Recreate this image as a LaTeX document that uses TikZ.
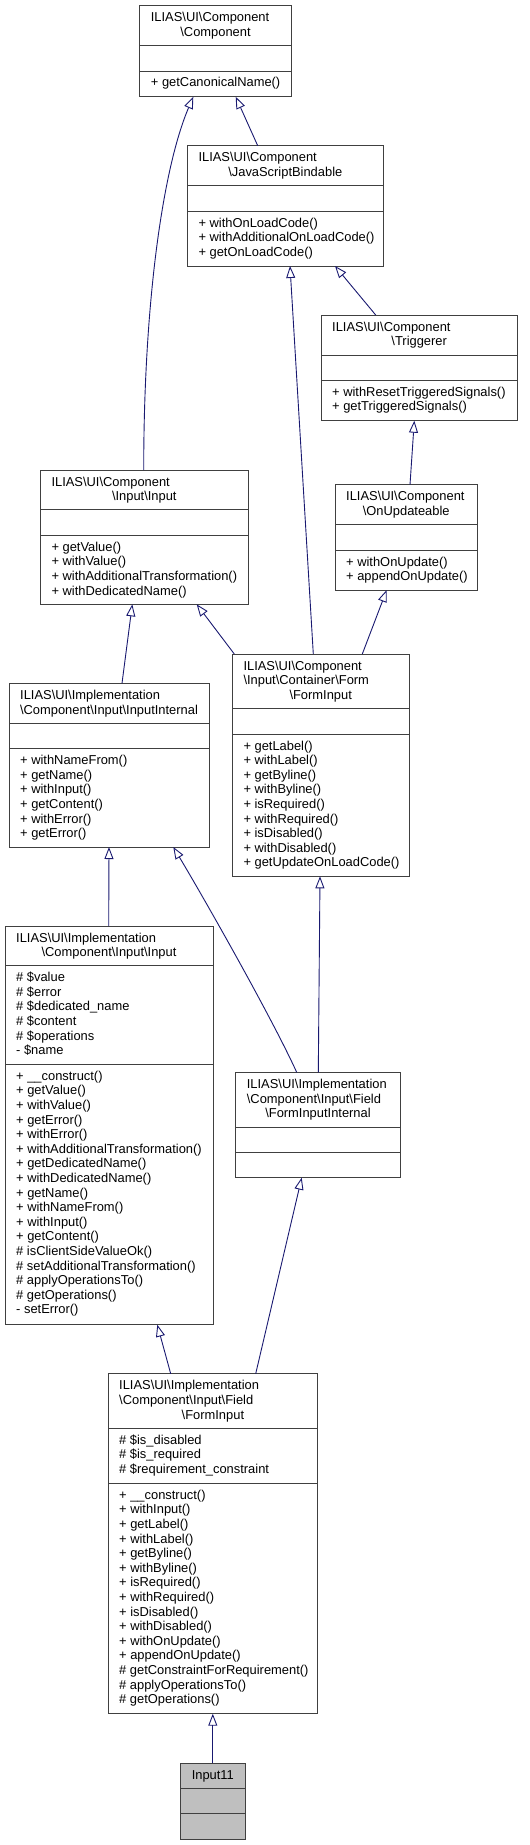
\documentclass[tikz,border=0pt]{standalone}
\usepackage{fontspec}
\setmainfont{Liberation Sans}
\usetikzlibrary{arrows.meta,calc,fit}
\definecolor{edgeblue}{HTML}{191970}
\definecolor{boxline}{HTML}{404040}
\definecolor{grayfill}{HTML}{BFBFBF}
\newcommand{\bsl}{\textbackslash}
\tikzset{
  box/.style={draw=boxline, line width=1pt, inner sep=0pt, outer sep=0pt},
  divline/.style={draw=boxline, line width=1pt},
  txt/.style={anchor=base west, inner sep=0pt, font=\fontsize{12.9}{14.6}\selectfont},
  ctxt/.style={anchor=base, inner sep=0pt, font=\fontsize{12.9}{14.6}\selectfont},
  inherit/.style={draw=edgeblue, line width=0.9pt, -{Triangle[open, length=12pt, width=9pt]}},
}
\newcommand{\umlbox}[8][white]{%
  \node[box, fill=#1, fit={(#3,#4) (#5,#6)}] (#2) {};
  \draw[divline] (#2.west |- 0,#7) -- (#2.east |- 0,#7);
  \draw[divline] (#2.west |- 0,#8) -- (#2.east |- 0,#8);
}
\newcommand{\rows}[4]{%
  \foreach \rowtext [count=\i from 0] in {#4} {\node[txt] (#1-\i) at (#2,#3+\i*14.6) {\rowtext};}
}
\begin{document}
\begin{tikzpicture}[x=1pt, y=-1pt]
\useasboundingbox (0,0) rectangle (530,1845);

% b1 Component
\umlbox{b1}{139.7}{5.7}{291.3}{96.7}{45.7}{71}
\node[txt] (b1-t1) at (150.7,21.9) {ILIAS\bsl UI\bsl Component};
\node[ctxt] (b1-t2) at (215.5,36.5) {\bsl Component};
\rows{b1m}{150.7}{86.9}{{+ getCanonicalName()}}

% b2 JavaScriptBindable
\umlbox{b2}{187.3}{145.7}{383.3}{266}{185.7}{211}
\node[txt] (b2-t1) at (198.3,161.9) {ILIAS\bsl UI\bsl Component};
\node[ctxt] (b2-t2) at (285.3,176.5) {\bsl JavaScriptBindable};
\rows{b2m}{198.3}{227}{{+ withOnLoadCode()},{+ withAdditionalOnLoadCode()},{+ getOnLoadCode()}}

% b3 Triggerer
\umlbox{b3}{321}{315}{517.3}{420.7}{355}{380.3}
\node[txt] (b3-t1) at (332,331.2) {ILIAS\bsl UI\bsl Component};
\node[ctxt] (b3-t2) at (419.2,345.8) {\bsl Triggerer};
\rows{b3m}{332}{396.3}{{+ withResetTriggeredSignals()},{+ getTriggeredSignals()}}

% b4 Component Input Input
\umlbox{b4}{40.3}{470}{248.3}{604.3}{509.7}{535.3}
\node[txt] (b4-t1) at (51.3,486.2) {ILIAS\bsl UI\bsl Component};
\node[ctxt] (b4-t2) at (144.3,500.8) {\bsl Input\bsl Input};
\rows{b4m}{51.3}{551.3}{{+ getValue()},{+ withValue()},{+ withAdditionalTransformation()},{+ withDedicatedName()}}

% b5 OnUpdateable
\umlbox{b5}{335}{484.7}{477.3}{590}{524.3}{550}
\node[txt] (b5-t1) at (346,500.9) {ILIAS\bsl UI\bsl Component};
\node[ctxt] (b5-t2) at (406.2,515.5) {\bsl OnUpdateable};
\rows{b5m}{346}{566}{{+ withOnUpdate()},{+ appendOnUpdate()}}

% b6 InputInternal
\umlbox{b6}{9}{683.3}{209}{847}{723.3}{748.7}
\node[txt] (b6-t1) at (20,699.5) {ILIAS\bsl UI\bsl Implementation};
\node[ctxt] (b6-t2) at (109,714.1) {\bsl Component\bsl Input\bsl InputInternal};
\rows{b6m}{20}{764.7}{{+ withNameFrom()},{+ getName()},{+ withInput()},{+ getContent()},{+ withError()},{+ getError()}}

% b7 Container Form FormInput
\umlbox{b7}{232.3}{654}{409}{876.3}{708.3}{734}
\node[txt] (b7-t1) at (243.3,670.2) {ILIAS\bsl UI\bsl Component};
\node[txt] (b7-t2) at (243.3,684.8) {\bsl Input\bsl Container\bsl Form};
\node[ctxt] (b7-t3) at (320.7,699.4) {\bsl FormInput};
\rows{b7m}{243.3}{750}{{+ getLabel()},{+ withLabel()},{+ getByline()},{+ withByline()},{+ isRequired()},{+ withRequired()},{+ isDisabled()},{+ withDisabled()},{+ getUpdateOnLoadCode()}}

% b8 Implementation Input
\umlbox{b8}{5}{926}{213}{1324.7}{965.7}{1064.3}
\node[txt] (b8-t1) at (16,942.2) {ILIAS\bsl UI\bsl Implementation};
\node[ctxt] (b8-t2) at (109,956.8) {\bsl Component\bsl Input\bsl Input};
\rows{b8a}{16}{981.7}{{\# \$value},{\# \$error},{\# \$dedicated\_name},{\# \$content},{\# \$operations},{- \$name}}
\rows{b8m}{16}{1080.3}{{+ \_\_construct()},{+ getValue()},{+ withValue()},{+ getError()},{+ withError()},{+ withAdditionalTransformation()},{+ getDedicatedName()},{+ withDedicatedName()},{+ getName()},{+ withNameFrom()},{+ withInput()},{+ getContent()},{\# isClientSideValueOk()},{\# setAdditionalTransformation()},{\# applyOperationsTo()},{\# getOperations()},{- setError()}}

% b9 FormInputInternal
\umlbox{b9}{235.7}{1072.3}{400.3}{1177.7}{1127}{1152.7}
\node[txt] (b9-t1) at (246.7,1088.5) {ILIAS\bsl UI\bsl Implementation};
\node[txt] (b9-t2) at (246.7,1103.1) {\bsl Component\bsl Input\bsl Field};
\node[ctxt] (b9-t3) at (318,1117.7) {\bsl FormInputInternal};

% b10 Field FormInput
\umlbox{b10}{108}{1373.7}{317.7}{1713.7}{1428.3}{1483.3}
\node[txt] (b10-t1) at (119,1389.9) {ILIAS\bsl UI\bsl Implementation};
\node[txt] (b10-t2) at (119,1404.5) {\bsl Component\bsl Input\bsl Field};
\node[ctxt] (b10-t3) at (212.9,1419.1) {\bsl FormInput};
\rows{b10a}{119}{1444.3}{{\# \$is\_disabled},{\# \$is\_required},{\# \$requirement\_constraint}}
\rows{b10m}{119}{1499.3}{{+ \_\_construct()},{+ withInput()},{+ getLabel()},{+ withLabel()},{+ getByline()},{+ withByline()},{+ isRequired()},{+ withRequired()},{+ isDisabled()},{+ withDisabled()},{+ withOnUpdate()},{+ appendOnUpdate()},{\# getConstraintForRequirement()},{\# applyOperationsTo()},{\# getOperations()}}

% b11 Input11
\umlbox[grayfill]{b11}{180.3}{1763}{245.3}{1839.3}{1788.3}{1813.7}
\node[ctxt] (b11-t1) at (212.8,1779.2) {Input11};

% inheritance connectors
\draw[inherit] ($(b2.north west)+(70.4,0)$) -- ($(b1.south west)+(96,0)$);
\draw[inherit] ($(b4.north west)+(103.4,0)$) .. controls +(0,-170) and +(-30,70) .. ($(b1.south west)+(53.6,0)$);
\draw[inherit] ($(b3.north west)+(54.7,0)$) -- ($(b2.south west)+(147.7,0)$);
\draw[inherit] ($(b7.north west)+(81,0)$) -- ($(b2.south west)+(102.7,0)$);
\draw[inherit] ($(b5.north west)+(75,0)$) -- ($(b3.south west)+(93.3,0)$);
\draw[inherit] ($(b6.north west)+(113,0)$) -- ($(b4.south west)+(92,0)$);
\draw[inherit] ($(b7.north west)+(2,0)$) -- ($(b4.south west)+(156.4,0)$);
\draw[inherit] ($(b7.north west)+(130,0)$) -- ($(b5.south west)+(51.7,0)$);
\draw[inherit] ($(b8.north west)+(103.7,0)$) -- ($(b6.south west)+(100,0)$);
\draw[inherit] ($(b9.north west)+(61,0)$) .. controls +(-25,-55) and +(30,50) .. ($(b6.south west)+(164.3,0)$);
\draw[inherit] ($(b9.north west)+(82.6,0)$) -- ($(b7.south west)+(87.7,0)$);
\draw[inherit] ($(b10.north west)+(62.7,0)$) -- ($(b8.south west)+(152.3,0)$);
\draw[inherit] ($(b10.north west)+(147.7,0)$) -- ($(b9.south west)+(66,0)$);
\draw[inherit] (b11.north) -- (b11.north |- b10.south);
\end{tikzpicture}
\end{document}
